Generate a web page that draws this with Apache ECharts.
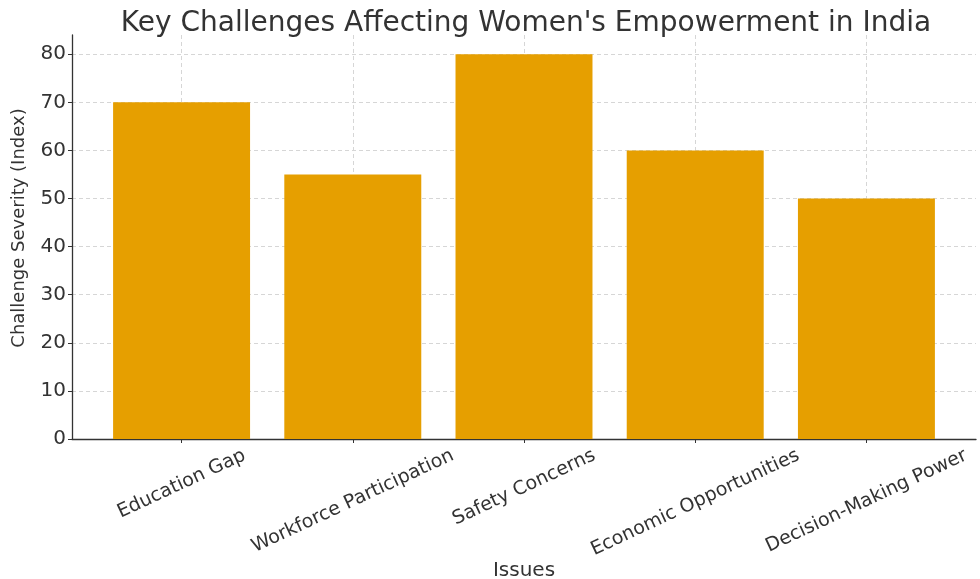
<!DOCTYPE html>
<html>
<head>
<meta charset="utf-8">
<script src="https://cdn.jsdelivr.net/npm/echarts@6/dist/echarts.min.js"></script>
<style>
  html, body { margin: 0; padding: 0; background: #fff; }
  #chart { width: 980px; height: 579px; }
</style>
</head>
<body>
<div id="chart"></div>
<script>
const issues = ['Education Gap', 'Workforce Participation', 'Safety Concerns', 'Economic Opportunities', 'Decision-Making Power']
const severity = [70, 55, 80, 60, 50]
const yTicks = [0, 10, 20, 30, 40, 50, 60, 70, 80]
const xTicks = [0, 1, 2, 3, 4]

const FONT = 'DejaVu Sans'
const LABEL_SIZE = 19
const ROTATE = 25

// rotated labels hang from the axis in the reference, so longer ones sit lower.
// push each label straight down by padding it in its own rotated frame
const ctx = document.createElement('canvas').getContext('2d')
ctx.font = LABEL_SIZE + 'px "' + FONT + '"'
const widths = issues.map(t => ctx.measureText(t).width)
const minW = Math.min(...widths)
const rad = ROTATE * Math.PI / 180
const rich = {}
issues.forEach((t, i) => {
  const d = (widths[i] - minW) * Math.sin(rad) / 2
  rich['l' + i] = {
    fontFamily: FONT,
    fontSize: LABEL_SIZE,
    color: '#333',
    padding: [2 * d * Math.cos(rad), 2 * d * Math.sin(rad), 0, 0]
  }
})

const chart = echarts.init(document.getElementById('chart'))

const gridLine = { show: true, lineStyle: { type: [4, 3], color: '#d6d6d6', width: 1 } }
const spine = { show: true, lineStyle: { color: '#333', width: 1.3 } }

chart.setOption({
  animation: false,
  title: {
    text: "Key Challenges Affecting Women's Empowerment in India",
    left: 521,
    textAlign: 'center',
    top: 5,
    textStyle: { fontFamily: FONT, fontSize: 28, fontWeight: 'normal', color: '#333' }
  },
  grid: { left: 72, right: 4, top: 35, bottom: 140, outerBoundsMode: 'none' },
  xAxis: {
    type: 'value',
    min: -0.64,
    max: 4.64,
    name: 'Issues',
    nameLocation: 'middle',
    nameGap: 122,
    nameMoveOverlap: false,
    nameTextStyle: { fontFamily: FONT, fontSize: 20, color: '#333' },
    axisLine: spine,
    axisTick: { show: true, customValues: xTicks, length: 4, lineStyle: { color: '#333' } },
    axisLabel: {
      customValues: xTicks,
      rotate: ROTATE,
      align: 'center',
      verticalAlign: 'middle',
      margin: 45,
      formatter: v => '{l' + v + '|' + issues[v] + '}',
      rich: rich
    },
    splitLine: gridLine
  },
  yAxis: {
    type: 'value',
    min: 0,
    max: 84,
    interval: 10,
    name: 'Challenge Severity (Index)',
    nameLocation: 'middle',
    nameGap: 44,
    nameMoveOverlap: false,
    nameTextStyle: { fontFamily: FONT, fontSize: 18, color: '#333', padding: [0, 0, 0, 18] },
    axisLine: { ...spine, onZero: false },
    axisTick: { show: true, customValues: yTicks, length: 4, lineStyle: { color: '#333' } },
    axisLabel: { customValues: yTicks, fontFamily: FONT, fontSize: 20, color: '#333', margin: 6 },
    splitLine: gridLine
  },
  series: [{
    type: 'bar',
    data: severity.map((v, i) => [i, v]),
    barWidth: '80%',
    itemStyle: { color: '#E69F00' },
    silent: true
  }]
})
</script>
</body>
</html>
